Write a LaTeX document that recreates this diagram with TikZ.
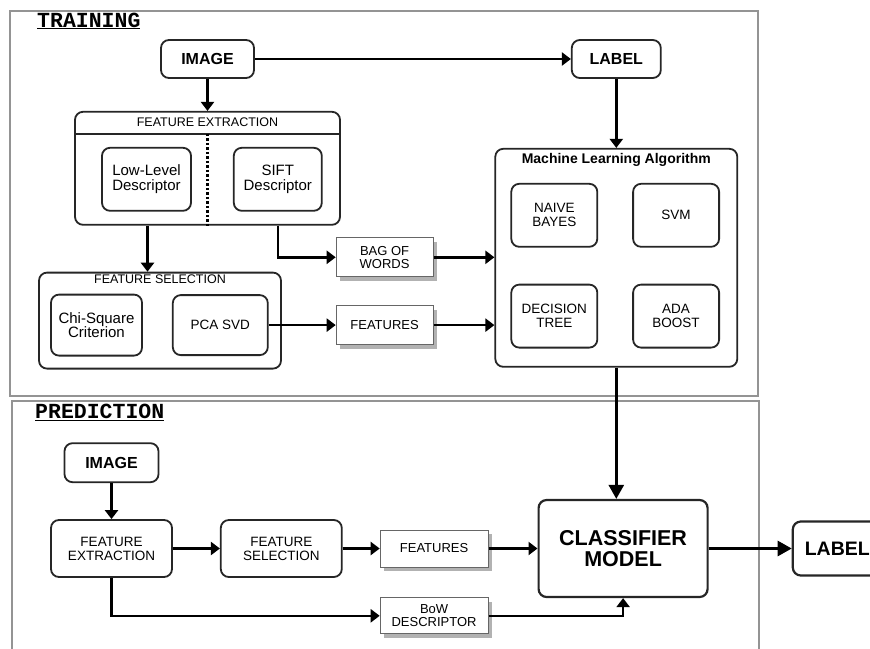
\documentclass[tikz,border=0pt]{standalone}
\usepackage{fontspec}
\setmainfont{Liberation Sans}
\newfontfamily\monofont{Liberation Mono}
\usetikzlibrary{positioning, arrows.meta, shadows, calc}

\tikzstyle{frame} = [draw=black!42, line width=1.2pt]
\tikzstyle{sectitle} = [font=\monofont\bfseries\fontsize{21.5}{22}\selectfont, inner sep=0pt, anchor=west]
\tikzstyle{rbox} = [rectangle, rounded corners=8pt, draw=black!85, line width=1.8pt, align=center, inner sep=0pt, fill=white]
\tikzstyle{big} = [rbox, font=\bfseries\fontsize{16}{18}\selectfont]
\tikzstyle{inbox} = [rbox, font=\fontsize{15}{14.5}\selectfont]
\tikzstyle{algo} = [rbox, minimum width=86pt, minimum height=63pt, font=\fontsize{13.5}{14}\selectfont]
\tikzstyle{group} = [rbox]
\tikzstyle{grptitle} = [inner sep=0pt, font=\fontsize{12.5}{13}\selectfont]
\tikzstyle{data} = [rectangle, draw=black!60, line width=0.8pt, fill=white, align=center, inner sep=0pt, font=\fontsize{13}{13.5}\selectfont, drop shadow={shadow xshift=4pt, shadow yshift=-4pt, fill=black!30, opacity=1}]
\tikzstyle{arrow} = [line width=2.6pt, -{Triangle[length=9pt, width=13pt]}]
\tikzstyle{thickarrow} = [line width=2.6pt, -{Triangle[length=14pt, width=15pt]}]

\begin{document}
\begin{tikzpicture}[x=1pt, y=-1pt]
\useasboundingbox (0,0) rectangle (870,648);

% frames
\draw[frame] (10,11) rectangle (758,396);
\draw[frame] (12,401) rectangle (759,670);
\node[sectitle] (trainlbl) at (37,21) {\underline{TRAINING}};
\node[sectitle] (predlbl) at (35,412) {\underline{PREDICTION}};

% training
\node[big, minimum width=93pt, minimum height=38pt] (img) at (207.5,59) {IMAGE};
\node[big, minimum width=89pt, minimum height=38pt, right=316pt of img] (lbl) {LABEL};

\node[group, minimum width=265pt, minimum height=113pt, below=32pt of img] (fe) {};
\node[grptitle, below=7pt of fe.north] (fetitle) {FEATURE EXTRACTION};
\draw[line width=1.8pt, draw=black!85] ([yshift=-23pt]fe.north west) -- ([yshift=-23pt]fe.north east);
\draw[line width=2.5pt, dash pattern=on 2.5pt off 2pt] ([yshift=-23pt]fe.north) -- (fe.south);
\node[inbox, minimum width=89pt, minimum height=63pt, below right=36pt and 27pt of fe.north west] (lowlvl) {Low-Level\\Descriptor};
\node[inbox, minimum width=88pt, minimum height=63pt, right=41pt of lowlvl] (sift) {SIFT\\Descriptor};

\node[group, minimum width=242pt, minimum height=96pt, below=46pt of fe, xshift=-47.5pt] (fs) {};
\node[grptitle, below=3pt of fs.north] (fstitle) {FEATURE SELECTION};
\node[inbox, minimum width=91pt, minimum height=61pt, below right=22pt and 12pt of fs.north west] (chi) {Chi-Square\\Criterion};
\node[inbox, font=\fontsize{13.5}{14}\selectfont, minimum width=95pt, minimum height=60pt, right=29pt of chi] (pca) {PCA SVD};

\node[data, minimum width=97pt, minimum height=39pt, right=67pt of pca] (feat) {FEATURES};
\node[data, minimum width=97pt, minimum height=39pt, above=28pt of feat] (bow) {BAG OF\\WORDS};

\node[group, minimum width=242pt, minimum height=218pt, below=69pt of lbl] (ml) {};
\node[grptitle, font=\bfseries\fontsize{14}{14}\selectfont, below=5pt of ml.north] (mltitle) {Machine Learning Algorithm};
\node[algo, below right=35pt and 16pt of ml.north west] (nb) {NAIVE\\BAYES};
\node[algo, right=34pt of nb] (svm) {SVM};
\node[algo, below=36pt of nb] (dt) {DECISION\\TREE};
\node[algo, below=36pt of svm] (ada) {ADA\\BOOST};

\draw[arrow] (img) -- (lbl);
\draw[arrow] (img) -- (fe);
\draw[arrow] (lbl) -- (ml);
\draw[arrow] ([xshift=-60pt]fe.south) -- ([xshift=-60pt]fe.south |- fs.north);
\draw[arrow] (sift |- fe.south) |- (bow);
\draw[arrow] (pca.east) -- (pca.east -| feat.west);
\draw[arrow] (bow.east) -- (bow.east -| ml.west);
\draw[arrow] (feat.east) -- (feat.east -| ml.west);

% prediction
\node[algo, minimum width=121pt, minimum height=57pt] (fe2) at (111.5,548.5) {FEATURE\\EXTRACTION};
\node[big, minimum width=94pt, minimum height=39pt, above=36pt of fe2] (img2) {IMAGE};
\node[algo, minimum width=121pt, minimum height=57pt, right=47pt of fe2] (fs2) {FEATURE\\SELECTION};
\node[data, minimum width=108pt, minimum height=37pt, right=37pt of fs2] (feat2) {FEATURES};
\node[data, minimum width=108pt, minimum height=36pt, below=30pt of feat2] (bow2) {BoW\\DESCRIPTOR};
\node[rbox, line width=2.2pt, minimum width=169pt, minimum height=97pt, font=\bfseries\fontsize{21.5}{21}\selectfont, right=49pt of feat2] (cm) {CLASSIFIER\\MODEL};
\node[rbox, line width=2.2pt, minimum width=89pt, minimum height=54pt, font=\bfseries\fontsize{19.5}{21}\selectfont, right=85pt of cm, xshift=-2pt] (lbl2) {LABEL};

\draw[thickarrow] (ml.south) -- (ml.south |- cm.north);
\draw[arrow] (img2) -- (fe2);
\draw[arrow] (fe2) -- (fs2);
\draw[arrow] (fs2) -- (feat2);
\draw[arrow] (feat2) -- (cm);
\draw[arrow] (fe2) |- (bow2);
\draw[arrow] (bow2) -| (cm);
\draw[thickarrow] (cm) -- (lbl2);

\end{tikzpicture}
\end{document}
